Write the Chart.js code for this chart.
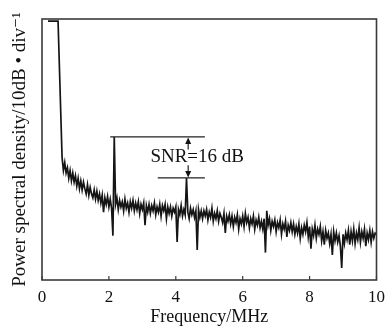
<!DOCTYPE html>
<html>
<head>
<meta charset="utf-8">
<script src="https://cdn.jsdelivr.net/npm/chart.js@4/dist/chart.umd.min.js"></script>
<style>
html, body { margin: 0; padding: 0; background: #fff; }
#wrap { width: 392px; height: 328px; }
</style>
</head>
<body>
<div id="wrap"><canvas id="psdChart" width="392" height="328"></canvas></div>
<script>
// frequency ticks (MHz)
var xTicks = [0, 2, 4, 6, 8, 10];

// saturated low-frequency part of the trace
var headFreq = [0.18, 0.48];
var headPower = [99.2, 99.2];

// noise floor, one reading every 0.04 MHz starting at 0.60 MHz (relative dB)
var floorStart = 0.60;
var floorStep = 0.04;
var floorPower = [
     47, 42, 45, 41, 43, 39, 42, 38, 41, 37.5,
     40, 36, 39, 35, 38, 34.5, 37.5, 35, 33, 36.5,
     32.5, 35.5, 33, 31.5, 34.5, 31, 34, 30.5, 33, 29.5,
     32.5, 26, 31.5, 29, 32, 28, 31, 27.5, 17, 54.8,
     29, 31.5, 27, 30.5, 28, 30, 26.5, 31, 27.5, 29.5,
     26, 30, 27.5, 30.5, 26.5, 29.5, 27, 30, 25.5, 29,
     27, 29.5, 21, 28.5, 26, 29, 25.5, 28.5, 26.5, 29.5,
     25, 28, 26, 29, 24.5, 28.5, 26.5, 29, 23.5, 28,
     25.5, 28, 24.5, 27.5, 26, 28, 14.6, 27, 25, 28.5,
     24.5, 27, 25, 39.1, 26, 23.5, 27.5, 25, 27, 24,
     26.5, 11.5, 27, 24, 26.5, 23.5, 26.5, 24.5, 27, 23,
     26, 24, 27.5, 22.5, 25.5, 23.5, 26.5, 22.5, 25.5, 24,
     22, 25.5, 18, 24.5, 22.5, 25, 21.5, 24.5, 20.5, 24,
     22, 25, 19.5, 23.5, 21.5, 24.5, 20.5, 25.5, 22, 24,
     20, 23.5, 21.5, 24.5, 19.5, 23, 21, 24, 20, 22.5,
     19.5, 23.5, 10.5, 26.5, 21, 23.5, 19, 22.5, 20.5, 23,
     18.5, 22, 20, 23, 17.5, 21.5, 19.5, 22.5, 16.5, 21,
     19, 22, 18.5, 21.5, 17.5, 20.5, 18, 21.5, 16, 20,
     17.5, 21, 18.5, 22, 16.5, 20.5, 12, 19.5, 17, 21,
     16, 19.5, 17.5, 20.5, 15, 18.5, 13.5, 19, 16, 18,
     14, 17.5, 9.6, 18.5, 15, 18, 14.5, 17, 13, 4.6,
     17.5, 14, 18, 15.5, 19, 13.5, 18.5, 15, 19.5, 14,
     18, 15.5, 20, 14.5, 18.5, 16, 19.5, 13, 18, 15.5,
     19, 14.5, 18.5, 16, 18, 17.5
];

// SNR marker: signal peak and second peak used for the bracket
var peakFreq = [2.16, 4.32];
var peakPower = [54.8, 39.1];
var snrText = "SNR=16 dB";

var serif = "'Liberation Serif', 'DejaVu Serif', serif";

function buildPoints() {
     var pts = [];
     for (var i = 0; i < headFreq.length; i++) {
          pts.push({ x: headFreq[i], y: headPower[i] });
     }
     for (var j = 0; j < floorPower.length; j++) {
          pts.push({ x: +(floorStart + j * floorStep).toFixed(2), y: floorPower[j] });
     }
     return pts;
}

// frame, small inner ticks and the SNR bracket
var framePlugin = {
     id: 'frame',
     afterDatasetsDraw: function (chart) {
          var ctx = chart.ctx;
          var a = chart.chartArea;
          var xs = chart.scales.x;
          var ys = chart.scales.y;
          ctx.save();
          ctx.strokeStyle = '#3a3a3a';
          ctx.lineWidth = 1.6;
          ctx.strokeRect(a.left, a.top, a.right - a.left, a.bottom - a.top);

          ctx.lineWidth = 1.2;
          xTicks.forEach(function (v) {
               var px = xs.getPixelForValue(v);
               ctx.beginPath();
               ctx.moveTo(px, a.bottom);
               ctx.lineTo(px, a.bottom - 4);
               ctx.stroke();
          });

          // bracket lines
          ctx.strokeStyle = '#222';
          ctx.lineWidth = 1.2;
          var yTop = ys.getPixelForValue(peakPower[0]);
          var yLow = ys.getPixelForValue(peakPower[1]);
          var xEnd = xs.getPixelForValue(4.87);
          ctx.beginPath();
          ctx.moveTo(xs.getPixelForValue(2.04), yTop);
          ctx.lineTo(xEnd, yTop);
          ctx.moveTo(xs.getPixelForValue(3.46), yLow);
          ctx.lineTo(xEnd, yLow);
          ctx.stroke();

          // arrows
          var ax = xs.getPixelForValue(4.37);
          var upFrom = ys.getPixelForValue(50);
          var downFrom = ys.getPixelForValue(44);
          ctx.beginPath();
          ctx.moveTo(ax, upFrom);
          ctx.lineTo(ax, yTop + 4);
          ctx.moveTo(ax, downFrom);
          ctx.lineTo(ax, yLow - 4);
          ctx.stroke();
          ctx.fillStyle = '#111';
          ctx.beginPath();
          ctx.moveTo(ax, yTop + 0.5);
          ctx.lineTo(ax - 3, yTop + 7);
          ctx.lineTo(ax + 3, yTop + 7);
          ctx.closePath();
          ctx.fill();
          ctx.beginPath();
          ctx.moveTo(ax, yLow - 0.5);
          ctx.lineTo(ax - 3, yLow - 7);
          ctx.lineTo(ax + 3, yLow - 7);
          ctx.closePath();
          ctx.fill();

          // label
          ctx.font = '19px ' + serif;
          ctx.textAlign = 'left';
          ctx.textBaseline = 'alphabetic';
          ctx.fillText(snrText, xs.getPixelForValue(3.24), ys.getPixelForValue(45.3));
          ctx.restore();
     }
};

function createSpectrumChart() {
     var ctx = document.getElementById('psdChart').getContext('2d');
     window.psdChart = new Chart(ctx, {
          type: 'line',
          data: {
               datasets: [{
                    data: buildPoints(),
                    borderColor: '#151515',
                    borderWidth: 1.7,
                    borderJoinStyle: 'miter',
                    pointRadius: 0,
                    tension: 0,
                    fill: false
               }]
          },
          options: {
               responsive: false,
               animation: false,
               layout: { padding: { top: 19, right: 11, left: 0, bottom: 0 } },
               plugins: {
                    legend: { display: false },
                    tooltip: { enabled: false }
               },
               scales: {
                    x: {
                         type: 'linear',
                         min: 0,
                         max: 10,
                         afterBuildTicks: function (s) {
                              s.ticks = xTicks.map(function (v) { return { value: v }; });
                         },
                         afterFit: function (s) { s.height = 48; },
                         grid: { display: false, drawTicks: false },
                         border: { display: false },
                         ticks: {
                              color: '#111',
                              padding: 7,
                              maxRotation: 0,
                              font: { family: serif, size: 17 }
                         },
                         title: {
                              display: true,
                              text: 'Frequency/MHz',
                              color: '#111',
                              padding: { top: 0, bottom: 0 },
                              font: { family: serif, size: 18 }
                         }
                    },
                    y: {
                         min: 0,
                         max: 100,
                         afterFit: function (s) { s.width = 42; },
                         grid: { display: false, drawTicks: false },
                         border: { display: false },
                         ticks: { display: false },
                         title: {
                              display: true,
                              text: 'Power spectral density/10dB \u2022 div\u207B\u00B9',
                              color: '#111',
                              padding: { top: 9, bottom: 0 },
                              font: { family: serif, size: 19 }
                         }
                    }
               }
          },
          plugins: [framePlugin]
     });
}

document.addEventListener('DOMContentLoaded', function () {
     createSpectrumChart();
});
</script>
</body>
</html>
